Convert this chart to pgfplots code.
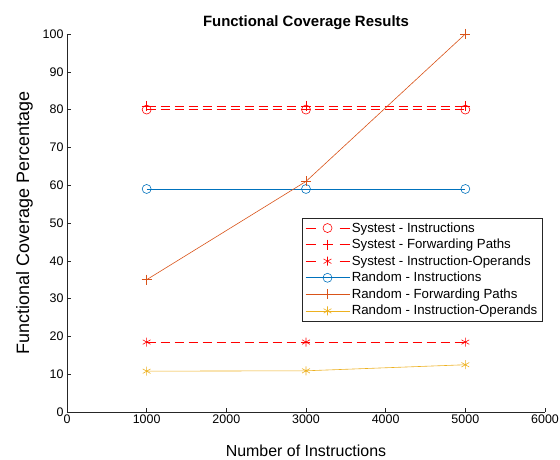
\documentclass[border=0pt]{standalone}
\usepackage{pgfplots}
\pgfplotsset{compat=1.18}
\usepackage{fontspec}
\setmainfont{Liberation Sans}
\definecolor{mred}{rgb}{1,0,0}
\definecolor{mblue}{rgb}{0,0.447,0.741}
\definecolor{morange}{rgb}{0.85,0.325,0.098}
\definecolor{myellow}{rgb}{0.929,0.694,0.125}
\definecolor{axgray}{rgb}{0.15,0.15,0.15}
\begin{document}
\begin{tikzpicture}
\useasboundingbox (-67bp,-48bp) rectangle (493bp,412bp);
\begin{axis}[
  anchor=south west, at={(0,0)},
  scale only axis, width=478bp, height=378bp,
  xmin=0, xmax=6000, ymin=0, ymax=100,
  xtick={0,1000,...,6000}, ytick={0,10,...,100},
  scaled x ticks=false,
  /pgf/number format/assume math mode=true,
  /pgf/number format/1000 sep={},
  axis x line*=bottom, axis y line*=left,
  axis line style={draw=axgray, line width=0.5pt},
  tick align=inside, tick style={draw=axgray, line width=0.5pt},
  major tick length=4.5bp,
  ticklabel style={font=\fontsize{12.5}{14}\selectfont},
  xticklabel style={yshift=1bp},
  xlabel={Number of Instructions}, ylabel={Functional Coverage Percentage},
  xlabel style={font=\fontsize{16}{18}\selectfont, yshift=-15bp},
  ylabel style={font=\fontsize{18}{20}\selectfont, yshift=3bp},
  title={Functional Coverage Results},
  title style={font=\bfseries\fontsize{15}{17}\selectfont, yshift=-5bp},
  legend style={at={(0.994,0.377)}, anchor=east, font=\fontsize{13.3}{14}\selectfont,
    draw=axgray, line width=0.5pt, row sep=1.5bp, inner sep=2.5bp},
  legend cell align=left,
  legend image code/.code={\draw[mark repeat=2,mark phase=2] plot coordinates {(0bp,0bp) (22bp,0bp) (44bp,0bp)};},
]
\addplot[color=mred, draw=mred, line width=0.6pt, dash pattern=on 9bp off 5bp, mark=o, mark size=4.5bp, mark options={solid, draw=mred, fill=none}, forget plot]
  coordinates {(1000,80) (3000,80) (5000,80)};
\addplot[color=mred, draw=mred, line width=0.6pt, dash pattern=on 9bp off 5bp, mark=+, mark size=5bp, mark options={solid, draw=mred}, forget plot]
  coordinates {(1000,81) (3000,81) (5000,81)};
\addplot[color=mred, draw=mred, line width=0.6pt, dash pattern=on 9bp off 5bp, mark=asterisk, mark size=4.5bp, mark options={solid, draw=mred}, forget plot]
  coordinates {(1000,18.5) (3000,18.5) (5000,18.5)};
\addplot[color=mblue, draw=mblue, line width=0.6pt, mark=o, mark size=4.5bp, mark options={draw=mblue, fill=none}, forget plot] coordinates {(1000,59) (3000,59) (5000,59)};
\addplot[color=morange, draw=morange, line width=0.6pt, mark=+, mark size=5bp, mark options={draw=morange}, forget plot] coordinates {(1000,35) (3000,61) (5000,100)};
\addplot[color=myellow, draw=myellow, line width=0.6pt, mark=asterisk, mark size=4.5bp, mark options={draw=myellow}, forget plot] coordinates {(1000,10.8) (3000,10.9) (5000,12.5)};
\addlegendimage{color=mred, draw=mred, line width=0.6pt, dash pattern=on 10bp off 24bp, mark=o, mark size=4.5bp, mark options={solid, draw=mred, fill=none}}
\addlegendentry{Systest - Instructions}
\addlegendimage{color=mred, draw=mred, line width=0.6pt, dash pattern=on 10bp off 24bp, mark=+, mark size=5bp, mark options={solid, draw=mred}}
\addlegendentry{Systest - Forwarding Paths}
\addlegendimage{color=mred, draw=mred, line width=0.6pt, dash pattern=on 10bp off 24bp, mark=asterisk, mark size=4.5bp, mark options={solid, draw=mred}}
\addlegendentry{Systest - Instruction-Operands}
\addlegendimage{color=mblue, draw=mblue, line width=0.6pt, mark=o, mark size=4.5bp, mark options={draw=mblue, fill=none}}
\addlegendentry{Random - Instructions}
\addlegendimage{color=morange, draw=morange, line width=0.6pt, mark=+, mark size=5bp, mark options={draw=morange}}
\addlegendentry{Random - Forwarding Paths}
\addlegendimage{color=myellow, draw=myellow, line width=0.6pt, mark=asterisk, mark size=4.5bp, mark options={draw=myellow}}
\addlegendentry{Random - Instruction-Operands}
\end{axis}
\end{tikzpicture}
\end{document}
